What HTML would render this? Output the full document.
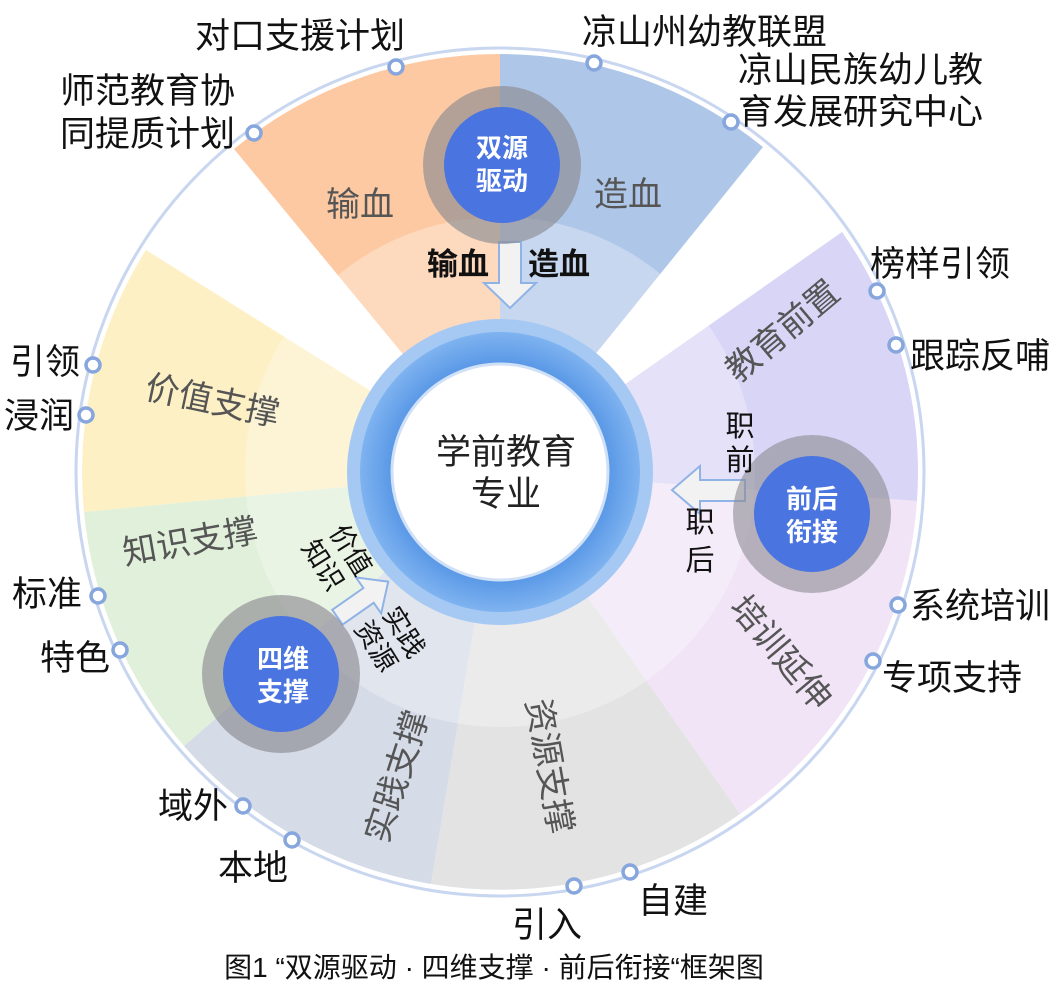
<!DOCTYPE html>
<html><head><meta charset="utf-8"><style>
html,body{margin:0;padding:0;background:#fff;}
svg{display:block;font-family:"Liberation Sans","Noto Sans CJK SC",sans-serif;}
</style></head><body>
<svg width="1056" height="984" viewBox="0 0 1056 984" xmlns="http://www.w3.org/2000/svg">
<defs>
<radialGradient id="ring" cx="50%" cy="50%" r="50%">
<stop offset="70%" stop-color="#4d8fe3"/><stop offset="100%" stop-color="#7fb3f0"/></radialGradient>
</defs>
<circle cx="500" cy="472" r="424" fill="#fff" stroke="#c8d6f0" stroke-width="3"/>
<path d="M500 472 L234 149 A418 418 0 0 1 500 54 Z" fill="#fdc9a3"/>
<path d="M500 472 L500 54 A418 418 0 0 1 763 147 Z" fill="#aec6e8"/>
<path d="M500 472 L842 232 A418 418 0 0 1 917 501 Z" fill="#d8d5f6"/>
<path d="M500 472 L917 501 A418 418 0 0 1 740 814 Z" fill="#f1e4f6"/>
<path d="M500 472 L740 814 A418 418 0 0 1 431 884 Z" fill="#e3e3e3"/>
<path d="M500 472 L431 884 A418 418 0 0 1 184 746 Z" fill="#d5dbe7"/>
<path d="M500 472 L184 746 A418 418 0 0 1 84 512 Z" fill="#e1f0da"/>
<path d="M500 472 L84 512 A418 418 0 0 1 146 250 Z" fill="#fdf0c4"/>
<circle cx="500" cy="472" r="255" fill="#fff" opacity="0.3"/>
<circle cx="500" cy="472" r="153" fill="#a6c9f3"/>
<circle cx="500" cy="472" r="140" fill="url(#ring)"/>
<circle cx="500" cy="472" r="108" fill="#fff" stroke="#cfe0f7" stroke-width="3"/>
<text x="506" y="464" font-size="35" text-anchor="middle" fill="#222">学前教育</text>
<text x="506" y="506" font-size="35" text-anchor="middle" fill="#222">专业</text>

<path d="M499 242 L521 242 L521 283 L536 283 L510 308 L484 283 L499 283 Z" fill="#f2f2f2" stroke="#8fb3e6" stroke-width="2"/>
<path d="M745 480 L745 501 L700 501 L700 514 L672 490 L700 466 L700 480 Z" fill="#f2f2f2" stroke="#8fb3e6" stroke-width="2"/>
<g transform="translate(362,600) rotate(-35)">
<path d="M-30 -9 L8 -9 L8 -22 L32 0 L8 22 L8 9 L-30 9 Z" fill="#f2f2f2" stroke="#8fb3e6" stroke-width="2"/></g>

<circle cx="502" cy="165" r="79" fill="#8c8c92" opacity="0.65"/>
<circle cx="502" cy="165" r="58" fill="#4a74e0"/>
<text x="502" y="157" font-size="26" font-weight="bold" text-anchor="middle" fill="#fff">双源</text>
<text x="502" y="190" font-size="26" font-weight="bold" text-anchor="middle" fill="#fff">驱动</text>
<circle cx="812" cy="514" r="79" fill="#8c8c92" opacity="0.6"/>
<circle cx="812" cy="514" r="58" fill="#4a74e0"/>
<text x="812" y="508" font-size="26" font-weight="bold" text-anchor="middle" fill="#fff">前后</text>
<text x="812" y="541" font-size="26" font-weight="bold" text-anchor="middle" fill="#fff">衔接</text>
<circle cx="281" cy="674" r="79" fill="#8c8c92" opacity="0.65"/>
<circle cx="281" cy="674" r="58" fill="#4a74e0"/>
<text x="283" y="668" font-size="26" font-weight="bold" text-anchor="middle" fill="#fff">四维</text>
<text x="283" y="701" font-size="26" font-weight="bold" text-anchor="middle" fill="#fff">支撑</text>

<g font-size="34" fill="#555">
<text x="360" y="216" text-anchor="middle">输血</text>
<text x="628" y="206" text-anchor="middle">造血</text>
<text transform="translate(210,412) rotate(12)" text-anchor="middle">价值支撑</text>
<text transform="translate(192,553) rotate(-10)" text-anchor="middle">知识支撑</text>
<text transform="translate(790,340) rotate(-40)" text-anchor="middle">教育前置</text>
<text transform="translate(772,660) rotate(50)" text-anchor="middle">培训延伸</text>
<text transform="translate(538,768) rotate(80)" text-anchor="middle">资源支撑</text>
<text transform="translate(408,780) rotate(-72)" text-anchor="middle">实践支撑</text>
</g>
<g font-size="31" fill="#111" font-weight="bold">
<text x="458" y="275" text-anchor="middle">输血</text>
<text x="559" y="275" text-anchor="middle">造血</text>
</g>
<g font-size="29" fill="#111">
<text x="740" y="436" text-anchor="middle">职</text>
<text x="740" y="470" text-anchor="middle">前</text>
<text x="700" y="532" text-anchor="middle">职</text>
<text x="700" y="570" text-anchor="middle">后</text>
</g>
<g font-size="27" fill="#111">
<text transform="translate(343,555) rotate(58)" text-anchor="middle">价值</text>
<text transform="translate(315,570) rotate(58)" text-anchor="middle">知识</text>
<text transform="translate(396,637) rotate(58)" text-anchor="middle">实践</text>
<text transform="translate(368,651) rotate(58)" text-anchor="middle">资源</text>
</g>

<g fill="#fff" stroke="#86a6dd" stroke-width="3.5">
<circle cx="396" cy="67" r="7"/><circle cx="254" cy="133" r="7"/>
<circle cx="594" cy="63" r="7"/><circle cx="731" cy="122" r="7"/>
<circle cx="877" cy="291" r="7"/><circle cx="896" cy="345" r="7"/>
<circle cx="93" cy="365" r="7"/><circle cx="86" cy="415" r="7"/>
<circle cx="98" cy="596" r="7"/><circle cx="120" cy="650" r="7"/>
<circle cx="243" cy="806" r="7"/><circle cx="292" cy="840" r="7"/>
<circle cx="574" cy="886" r="7"/><circle cx="630" cy="872" r="7"/>
<circle cx="898" cy="605" r="7"/><circle cx="873" cy="661" r="7"/>
</g>
<g font-size="35" fill="#111">
<text x="195" y="48">对口支援计划</text>
<text x="60" y="103">师范教育协</text>
<text x="60" y="146">同提质计划</text>
<text x="582" y="44">凉山州幼教联盟</text>
<text x="738" y="82">凉山民族幼儿教</text>
<text x="738" y="124">育发展研究中心</text>
<text x="870" y="276">榜样引领</text>
<text x="910" y="368">跟踪反哺</text>
<text x="10" y="374">引领</text>
<text x="4" y="428">浸润</text>
<text x="12" y="606">标准</text>
<text x="40" y="670">特色</text>
<text x="158" y="818">域外</text>
<text x="218" y="880">本地</text>
<text x="512" y="937">引入</text>
<text x="638" y="913">自建</text>
<text x="910" y="618">系统培训</text>
<text x="882" y="690">专项支持</text>
</g>
<text x="494" y="977" font-size="28" text-anchor="middle" fill="#111">图1 “双源驱动 · 四维支撑 · 前后衔接“框架图</text>
</svg>
</body></html>
